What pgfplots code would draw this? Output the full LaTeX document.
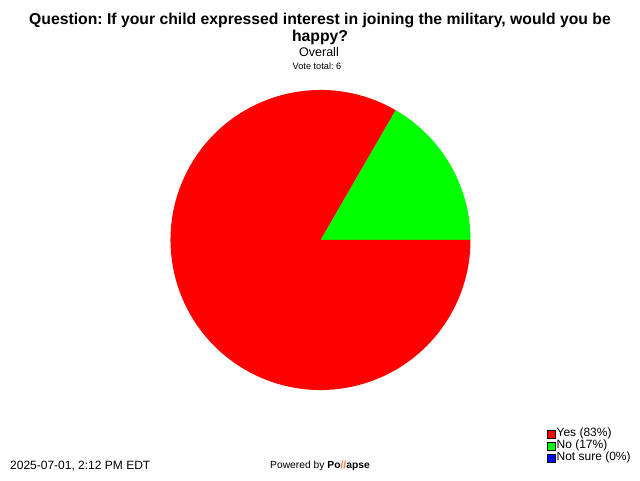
\documentclass[border=0pt]{standalone}
\usepackage{pgfplots}
\pgfplotsset{compat=1.18}
\usepackage{fontspec}
\setmainfont{Liberation Sans}
\frenchspacing
\definecolor{pieRed}{RGB}{255,0,0}
\definecolor{pieGreen}{RGB}{0,255,0}
\definecolor{pieBlue}{RGB}{0,0,255}
\definecolor{logoOrange}{RGB}{240,120,60}
% vote counts: Yes, No, Not sure
\def\vYes{5}
\def\vNo{1}
\def\vNot{0}
\begin{document}
\begin{tikzpicture}
\begin{axis}[
  scale only axis, x=1pt, y=1pt,
  xmin=0, xmax=640, ymin=0, ymax=480,
  hide axis, clip=false,
  legend image code/.code={\draw[#1,draw=black,line width=0.6pt] (0pt,-4pt) rectangle (8pt,4pt);},
  legend style={at={(axis cs:547,52)}, anchor=north west, draw=none, fill=none,
    inner sep=0pt, outer sep=0pt, row sep=0pt,
    font=\fontsize{12}{13}\selectfont,
    nodes={inner xsep=1pt, inner ysep=0pt, text height=8pt, text depth=4pt, anchor=west}},
  legend cell align=left,
]
\path (axis cs:0,0) rectangle (axis cs:640,480);
\pgfmathsetmacro{\tot}{\vYes+\vNo+\vNot}
\pgfmathsetmacro{\aNo}{360*\vNo/\tot}
% No slice: from 0 deg counterclockwise
\fill[pieGreen] (axis cs:320.5,240) -- (axis cs:470.5,240) arc[start angle=0, end angle=\aNo, radius=150pt] -- cycle;
% Yes slice
\fill[pieRed] (axis cs:320.5,240) -- ++(\aNo:150pt) arc[start angle=\aNo, end angle=360, radius=150pt] -- cycle;
\addlegendimage{fill=pieRed}
\addlegendentry{Yes (83\%)}
\addlegendimage{fill=pieGreen}
\addlegendentry{No (17\%)}
\addlegendimage{fill=pieBlue}
\addlegendentry{Not sure (0\%)}
% titles
\node[anchor=base, font=\fontsize{15.75}{17}\selectfont\bfseries] at (axis cs:320,455) {Question: If your child expressed interest in joining the military, would you be};
\node[anchor=base, font=\fontsize{15.75}{17}\selectfont\bfseries] at (axis cs:320,438) {happy?};
\node[anchor=base, font=\fontsize{12.5}{14}\selectfont] at (axis cs:319,423) {Overall};
\node[anchor=base, font=\fontsize{9.2}{11}\selectfont] at (axis cs:317,410) {Vote total: 6};
% footer
\node[anchor=base west, inner sep=0pt, font=\fontsize{12}{14}\selectfont] at (axis cs:10,11) {2025-07-01, 2:12 PM EDT};
\node[anchor=base west, inner sep=0pt, font=\fontsize{10.3}{12}\selectfont] at (axis cs:270,12) {Powered by \textbf{Po}\textcolor{logoOrange}{\textbf{//}}\textbf{apse}};
\end{axis}
\end{tikzpicture}
\end{document}
